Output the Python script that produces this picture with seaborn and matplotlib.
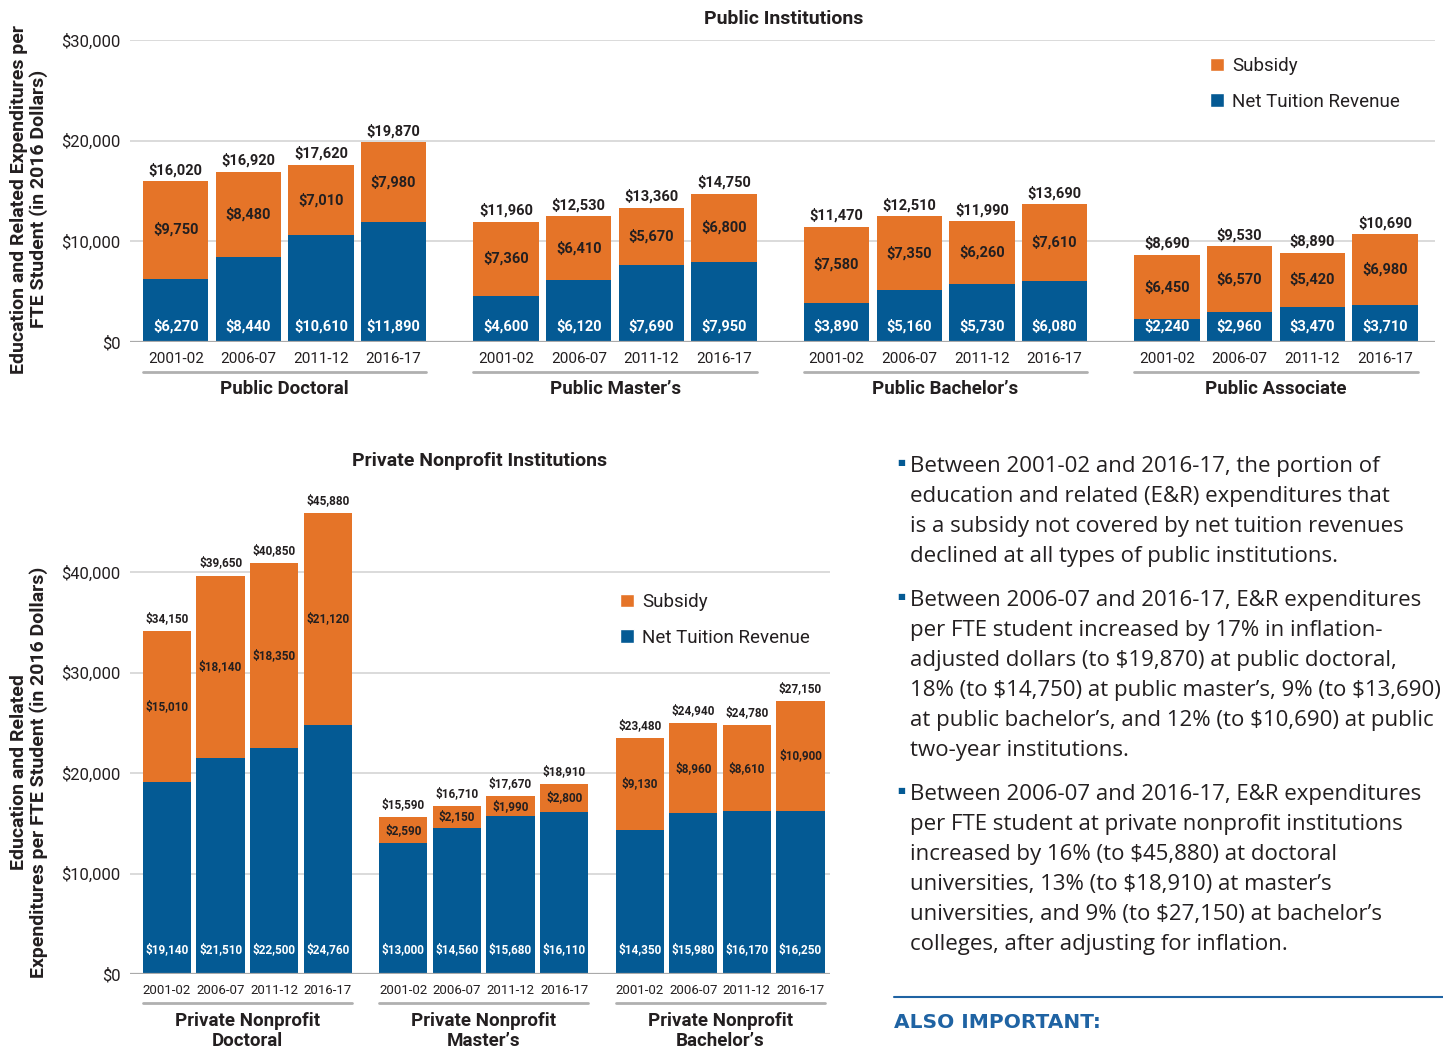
import pandas as pd
import seaborn as sns
import matplotlib.pyplot as plt
from matplotlib.patches import Patch

# ---- data ----
years = ["2001-02", "2006-07", "2011-12", "2016-17"]

public_groups = ["Public Doctoral", "Public Master\u2019s", "Public Bachelor\u2019s", "Public Associate"]
public_total = [16020, 16920, 17620, 19870, 11960, 12530, 13360, 14750,
                11470, 12510, 11990, 13690, 8690, 9530, 8890, 10690]
public_subsidy = [9750, 8480, 7010, 7980, 7360, 6410, 5670, 6800,
                  7580, 7350, 6260, 7610, 6450, 6570, 5420, 6980]
public_tuition = [6270, 8440, 10610, 11890, 4600, 6120, 7690, 7950,
                  3890, 5160, 5730, 6080, 2240, 2960, 3470, 3710]

private_groups = ["Private Nonprofit\nDoctoral", "Private Nonprofit\nMaster\u2019s",
                  "Private Nonprofit\nBachelor\u2019s"]
private_total = [34150, 39650, 40850, 45880, 15590, 16710, 17670, 18910,
                 23480, 24940, 24780, 27150]
private_subsidy = [15010, 18140, 18350, 21120, 2590, 2150, 1990, 2800,
                   9130, 8960, 8610, 10900]
private_tuition = [19140, 21510, 22500, 24760, 13000, 14560, 15680, 16110,
                   14350, 15980, 16170, 16250]

bullets = [
    ["Between 2001-02 and 2016-17, the portion of",
     "education and related (E&R) expenditures that",
     "is a subsidy not covered by net tuition revenues",
     "declined at all types of public institutions."],
    ["Between 2006-07 and 2016-17, E&R expenditures",
     "per FTE student increased by 17% in inflation-",
     "adjusted dollars (to $19,870) at public doctoral,",
     "18% (to $14,750) at public master\u2019s, 9% (to $13,690)",
     "at public bachelor\u2019s, and 12% (to $10,690) at public",
     "two-year institutions."],
    ["Between 2006-07 and 2016-17, E&R expenditures",
     "per FTE student at private nonprofit institutions",
     "increased by 16% (to $45,880) at doctoral",
     "universities, 13% (to $18,910) at master\u2019s",
     "universities, and 9% (to $27,150) at bachelor\u2019s",
     "colleges, after adjusting for inflation."],
]

ORANGE = "#E57428"
BLUE = "#045A94"
DARK = "#231f20"
GRID = "#d4d4d4"

sns.set_theme(style="white")
plt.rcParams["font.family"] = ["Roboto", "DejaVu Sans"]
plt.rcParams["text.parse_math"] = False

W, H = 1443, 1048
fig = plt.figure(figsize=(W / 100, H / 100), dpi=100)


def fx(px):
    return px / W


def fy(py):
    return 1 - py / H


def draw_panel(ax, groups, total, subsidy, tuition, group_step, ymax, yticks,
               lab_fs, year_fs, under_y, name_y, tuition_pad):
    n = len(years)
    pos = [g * group_step + i for g in range(len(groups)) for i in range(n)]
    df = pd.DataFrame({"pos": pos, "total": total, "subsidy": subsidy, "tuition": tuition})

    for y in yticks[1:]:
        ax.axhline(y, color=GRID, lw=1.2, zorder=0)
    ax.axhline(0, color="#aaaaaa", lw=1.6, zorder=3)

    # stacked look: full total in orange, net tuition in blue drawn over it
    sns.barplot(data=df, x="pos", y="total", native_scale=True, color=ORANGE,
                saturation=1, width=0.9, linewidth=0, ax=ax, zorder=2)
    sns.barplot(data=df, x="pos", y="tuition", native_scale=True, color=BLUE,
                saturation=1, width=0.9, linewidth=0, ax=ax, zorder=2)

    for p, t, s, u in zip(pos, total, subsidy, tuition):
        ax.text(p, t + ymax * 0.012, f"${t:,}", ha="center", va="bottom",
                fontsize=lab_fs, fontweight="bold", color=DARK)
        ax.text(p, u + s / 2, f"${s:,}", ha="center", va="center",
                fontsize=lab_fs, fontweight="bold", color=DARK)
        ax.text(p, tuition_pad, f"${u:,}", ha="center", va="center",
                fontsize=lab_fs, fontweight="bold", color="white", zorder=4)

    ax.set_ylim(0, ymax)
    ax.set_yticks(yticks)
    ax.set_yticklabels([f"${v:,}" for v in yticks], fontsize=12, color=DARK)
    ax.set_xticks(pos)
    ax.set_xticklabels(years * len(groups), fontsize=year_fs, color=DARK)
    ax.tick_params(axis="both", length=0)
    ax.tick_params(axis="x", pad=7)
    ax.tick_params(axis="y", pad=7)
    ax.set_xlabel("")
    ax.set_ylabel("")
    for sp in ax.spines.values():
        sp.set_visible(False)

    for g, name in enumerate(groups):
        x0 = g * group_step - 0.45
        x1 = g * group_step + n - 1 + 0.45
        ax.plot([x0, x1], [under_y, under_y], color="#b0b0b0", lw=2,
                transform=ax.get_xaxis_transform(), clip_on=False)
        ax.text(g * group_step + (n - 1) / 2, name_y, name, ha="center", va="center",
                fontsize=13.5, fontweight="bold", color=DARK, linespacing=1.2,
                transform=ax.get_xaxis_transform())
    return pos


def add_legend(x, y):
    handles = [Patch(facecolor=ORANGE, label="Subsidy"),
               Patch(facecolor=BLUE, label="Net Tuition Revenue")]
    fig.legend(handles=handles, loc="upper left", bbox_to_anchor=(fx(x), fy(y)),
               frameon=False, fontsize=13.5, handlelength=0.75, handleheight=0.75,
               handletextpad=0.45, labelspacing=0.95, borderpad=0, borderaxespad=0,
               labelcolor=DARK)


# ---- public institutions ----
ax1 = fig.add_axes([fx(130), fy(342), fx(1305), 302 / H])
pos1 = draw_panel(ax1, public_groups, public_total, public_subsidy, public_tuition,
                  4.55, 30000, [0, 10000, 20000, 30000], 10.5, 11,
                  -30 / 302, -47 / 302, 1600)
ax1.set_xlim(-0.63, pos1[-1] + 0.69)
fig.text(fx(784), fy(19), "Public Institutions", ha="center", va="center",
         fontsize=14, fontweight="bold", color=DARK)
fig.text(fx(29), fy(199), "Education and Related Expenditures per\nFTE Student (in 2016 Dollars)",
         rotation=90, ha="center", va="center", fontsize=14, fontweight="bold",
         color=DARK, linespacing=1.1)
add_legend(1210, 57)

# ---- private nonprofit institutions ----
ax2 = fig.add_axes([fx(130), fy(974), fx(700), 502.5 / H])
pos2 = draw_panel(ax2, private_groups, private_total, private_subsidy, private_tuition,
                  4.41, 50000, [0, 10000, 20000, 30000, 40000], 8.5, 9.5,
                  -29 / 502.5, -57 / 502.5, 2400)
ax2.set_xlim(-0.69, pos2[-1] + 0.55)
fig.text(fx(480), fy(461), "Private Nonprofit Institutions", ha="center", va="center",
         fontsize=14, fontweight="bold", color=DARK)
fig.text(fx(29), fy(772), "Education and Related\nExpenditures per FTE Student (in 2016 Dollars)",
         rotation=90, ha="center", va="center", fontsize=14, fontweight="bold",
         color=DARK, linespacing=1.1)
add_legend(620, 593)

# ---- text panel ----
starts = [464, 598, 792]
for start, lines in zip(starts, bullets):
    fig.text(fx(901), fy(start - 1), "\u25a0", ha="center", va="center",
             fontsize=6, color=BLUE, family=["DejaVu Sans"])
    for k, line in enumerate(lines):
        fig.text(fx(910), fy(start + 30 * k), line, ha="left", va="center_baseline",
                 fontsize=16, color=DARK, family=["Open Sans", "DejaVu Sans"])

fig.add_artist(plt.Line2D([fx(894), fx(1443)], [fy(997), fy(997)],
                          color="#1f63a3", lw=1.5))
fig.text(fx(894), fy(1022), "ALSO IMPORTANT:", ha="left", va="center",
         fontsize=14.5, fontweight="bold", color="#1f63a3", family=["DejaVu Sans"])

fig.savefig("out.png", dpi=100)
